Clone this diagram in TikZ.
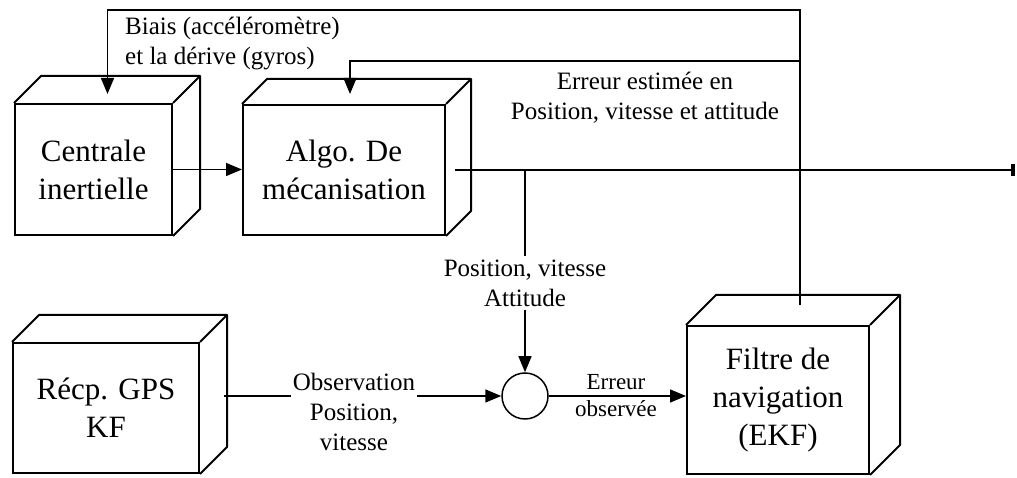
\documentclass[tikz,border=0pt]{standalone}
\usepackage{fontspec}
\setmainfont{Liberation Serif}
\usepackage{tikz}
\usetikzlibrary{
    arrows.meta,
    positioning,
    calc
}
\newcommand{\boxfont}{\fontsize{31}{38}\selectfont}
\newcommand{\lblfont}{\fontsize{25}{30}\selectfont}
\tikzstyle{block} = [
    rectangle,
    draw,
    line width=2pt,
    fill=white,
    align=center,
    inner sep=0pt,
    font=\boxfont
]
\tikzstyle{boxline} = [
    line width=2pt,
    line join=round
]
\tikzstyle{lbl} = [
    align=center,
    inner sep=3pt,
    font=\lblfont
]
\tikzstyle{line} = [
    line width=1.5pt
]
\tikzstyle{arrow} = [
    -{Triangle[length=16pt,width=13pt]},
    line width=1.5pt
]
% top and side faces of a box
\newcommand{\cuboid}[2]{
    \draw[boxline] (#1.north west) -- ++(#2,#2) -- ($(#1.north east)+(#2,#2)$)
        -- ($(#1.south east)+(#2,#2)$) -- (#1.south east);
    \draw[boxline] (#1.north east) -- ++(#2,#2);
}

\begin{document}
\begin{tikzpicture}[x=1pt, y=1pt]
        \useasboundingbox (0,0) rectangle (1017,478);

        % Boxes
        \node[block, minimum width=157, minimum height=131] (ins) at (93.5,308.5) {Centrale\\inertielle};
        \node[block, minimum width=202, minimum height=130] (algo) at (344,308) {Algo. De\\mécanisation};
        \node[block, minimum width=186, minimum height=130] (gps) at (106,70) {Récp. GPS\\KF};
        \node[block, minimum width=182, minimum height=148] (filtre) at (778,78) {Filtre de\\navigation\\(EKF)};
        \cuboid{ins}{27}
        \cuboid{algo}{25}
        \cuboid{gps}{27}
        \cuboid{filtre}{30}

        % Comparator
        \node[circle, draw, line width=1.5pt, minimum size=46, inner sep=0pt] (circ) at (525,82) {};

        % Labels
        \node[lbl, align=left, anchor=west] (bias) at (122,434) {Biais (accéléromètre)\\et la dérive (gyros)};
        \node[lbl] (est) at (645,380) {Erreur estimée en\\Position, vitesse et attitude};
        \node[lbl] (pva) at (525,195) {Position, vitesse\\Attitude};
        \node[lbl, inner sep=2pt] (obs) at (354,66) {Observation\\Position,\\vitesse};
        \node[lbl, font=\fontsize{23}{27}\selectfont] (errobs) at (616,82) {Erreur\\observée};

        % Coordinates
        \coordinate (itop) at ($(ins.north)+(14,9)$);
        \coordinate (atop) at ($(algo.north)+(6,10)$);
        \coordinate (ftop) at ($(filtre.north)+(22,20)$);
        \coordinate (tap) at (525,308);
        \coordinate (out) at (1015,308);
        \coordinate (gpsout) at ($(gps.east)+(24,12)$);

        % Arrows
        \draw[arrow] (ins.east) -- (ins.east -| algo.west);
        \draw[line, -{Rectangle[length=4pt,width=12pt]}] ([xshift=9pt]algo.east) -- (out);
        \draw[line] (tap) -- (pva.north);
        \draw[arrow] (pva.south) -- (circ.north);
        \draw[line] (gpsout) -- (gpsout -| obs.west);
        \draw[arrow] (obs.east |- circ) -- (circ.west);
        \draw[arrow] (circ.east) -- (circ.east -| filtre.west);

        % Feedback
        \draw[arrow] (ftop) -- ++(0,295) -| (itop);
        \draw[arrow] ($(ftop)+(0,244)$) -| (atop);
    \end{tikzpicture}
\end{document}
